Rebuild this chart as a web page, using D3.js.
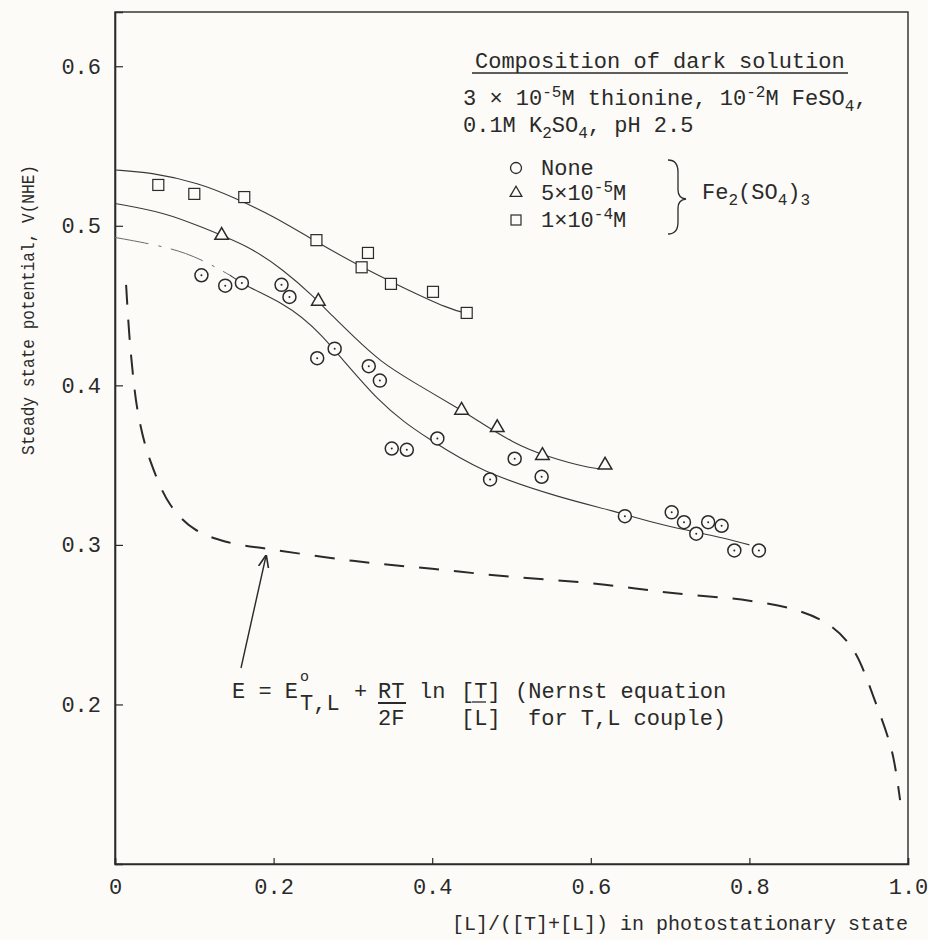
<!DOCTYPE html>
<html>
<head>
<meta charset="utf-8">
<script src="https://cdn.jsdelivr.net/npm/d3@7"></script>
<style>
  body { margin: 0; background: #fcfbf7; }
  svg { display: block; }
  text { font-family: "Liberation Mono", "DejaVu Sans Mono", monospace; fill: #2a2a2a; }
</style>
</head>
<body>
<div id="chart"></div>
<script>
let w = 928;
let h = 940;

// ---- data ----
// circles: no Fe2(SO4)3
let noneX = [0.109, 0.139, 0.160, 0.210, 0.220, 0.255, 0.277, 0.320, 0.334, 0.349, 0.368, 0.4065, 0.473, 0.504, 0.538, 0.643, 0.702, 0.7175, 0.733, 0.748, 0.765, 0.781, 0.812];
let noneY = [0.469, 0.4625, 0.4642, 0.463, 0.4554, 0.417, 0.423, 0.412, 0.403, 0.3604, 0.3596, 0.3667, 0.341, 0.354, 0.3427, 0.318, 0.3204, 0.3142, 0.307, 0.3142, 0.312, 0.2965, 0.2965];
// triangles: 5x10^-5 M
let triX = [0.1345, 0.2564, 0.437, 0.482, 0.539, 0.618];
let triY = [0.494, 0.4527, 0.3844, 0.3735, 0.356, 0.350];
// squares: 1x10^-4 M
let sqX = [0.0546, 0.100, 0.163, 0.254, 0.311, 0.319, 0.348, 0.401, 0.4435];
let sqY = [0.5256, 0.520, 0.518, 0.491, 0.474, 0.483, 0.4636, 0.4586, 0.4454];

// hand drawn fitted curves
let sqCurveX = [0, 0.044, 0.107, 0.149, 0.2, 0.25, 0.309, 0.36, 0.4225, 0.445];
let sqCurveY = [0.535, 0.5336, 0.5267, 0.518, 0.506, 0.491, 0.4746, 0.462, 0.4475, 0.445];
let triCurveX = [0, 0.065, 0.107, 0.17, 0.212, 0.25, 0.275, 0.3, 0.334, 0.376, 0.437, 0.46, 0.502, 0.54, 0.603, 0.615];
let triCurveY = [0.514, 0.508, 0.4996, 0.487, 0.4725, 0.456, 0.443, 0.431, 0.415, 0.402, 0.3844, 0.377, 0.364, 0.356, 0.3475, 0.348];
let noneCurveX = [0, 0.0525, 0.09, 0.12, 0.145, 0.166, 0.21, 0.2544, 0.334, 0.397, 0.46, 0.565, 0.628, 0.691, 0.754, 0.80];
let noneCurveY = [0.4927, 0.488, 0.483, 0.476, 0.469, 0.462, 0.452, 0.437, 0.387, 0.366, 0.346, 0.329, 0.3215, 0.312, 0.306, 0.30];
// Nernst equation (dashed)
let nernstX = [0.014, 0.02, 0.03, 0.045, 0.07, 0.1, 0.14, 0.2, 0.3, 0.4, 0.5, 0.6, 0.7, 0.8, 0.86, 0.9, 0.93, 0.96, 0.98, 0.99];
let nernstY = [0.463, 0.42, 0.38, 0.352, 0.325, 0.31, 0.302, 0.297, 0.29, 0.285, 0.28, 0.276, 0.27, 0.265, 0.259, 0.25, 0.235, 0.2, 0.17, 0.14];

let xTicks = [0, 0.2, 0.4, 0.6, 0.8, 1.0];
let yTicks = [0.2, 0.3, 0.4, 0.5, 0.6];

let x = d3.scaleLinear().domain([0, 1]).range([115, 908]);
let y = d3.scaleLinear().domain([0.1, 0.634]).range([864, 12]);

let svg = d3.select("#chart")
    .append("svg")
    .attr("width", w)
    .attr("height", h);

svg.append("rect").attr("width", w).attr("height", h).attr("fill", "#fcfbf7");

let ink = "#2a2a2a";

// frame
svg.append("rect")
    .attr("x", x(0)).attr("y", y(0.634))
    .attr("width", x(1) - x(0)).attr("height", y(0.1) - y(0.634))
    .attr("fill", "none").attr("stroke", ink).attr("stroke-width", 1.4);

// axes (inward ticks)
let xAxis = d3.axisBottom(x).tickValues(xTicks).tickSize(-6).tickPadding(14)
    .tickFormat(d => d === 0 ? "0" : d3.format(".1f")(d));
let gx = svg.append("g")
    .attr("transform", "translate(0," + y(0.1) + ")")
    .call(xAxis);

let yAxis = d3.axisLeft(y).tickValues(yTicks).tickSize(-8).tickPadding(14)
    .tickFormat(d3.format(".1f"));
let gy = svg.append("g")
    .attr("transform", "translate(" + x(0) + ",0)")
    .call(yAxis);

[gx, gy].forEach(g => {
    g.select(".domain").attr("stroke", ink).attr("stroke-width", 1.6);
    g.selectAll(".tick line").attr("stroke", ink).attr("stroke-width", 1.2);
    g.selectAll(".tick text").attr("font-size", 22).attr("fill", ink)
        .attr("font-family", "Liberation Mono, monospace");
});

// axis titles
svg.append("text")
    .attr("x", 908).attr("y", 930)
    .attr("text-anchor", "end")
    .attr("font-size", 20)
    .text("[L]/([T]+[L]) in photostationary state");

svg.append("text")
    .attr("transform", "translate(34,310) rotate(-90)")
    .attr("text-anchor", "middle")
    .attr("font-size", 18)
    .attr("textLength", 290)
    .attr("lengthAdjust", "spacingAndGlyphs")
    .text("Steady state potential, V(NHE)");

// curves
let line = d3.line()
    .x(d => x(d[0]))
    .y(d => y(d[1]))
    .curve(d3.curveBasis);

let curves = [
    [sqCurveX, sqCurveY],
    [triCurveX, triCurveY]
];
curves.forEach(c => {
    svg.append("path")
        .datum(d3.zip(c[0], c[1]))
        .attr("d", line)
        .attr("fill", "none")
        .attr("stroke", "#3a3a3a")
        .attr("stroke-width", 1.1);
});

// lower curve: faint broken start, solid afterwards
let lowPts = d3.zip(noneCurveX, noneCurveY);
svg.append("path")
    .datum(lowPts.filter(d => d[0] <= 0.145))
    .attr("d", line)
    .attr("fill", "none")
    .attr("stroke", "#6a6a6a")
    .attr("stroke-width", 1)
    .attr("stroke-dasharray", "34,10,3,10");
svg.append("path")
    .datum(lowPts.filter(d => d[0] >= 0.145))
    .attr("d", line)
    .attr("fill", "none")
    .attr("stroke", "#3a3a3a")
    .attr("stroke-width", 1.1);

svg.append("path")
    .datum(d3.zip(nernstX, nernstY))
    .attr("d", line.curve(d3.curveCatmullRom))
    .attr("fill", "none")
    .attr("stroke", ink)
    .attr("stroke-width", 2)
    .attr("stroke-dasharray", "20,15");

// markers
let mk = svg.append("g").attr("fill", "none").attr("stroke", ink).attr("stroke-width", 1.5);

mk.selectAll(".c")
    .data(d3.zip(noneX, noneY))
    .enter()
    .append("circle")
    .attr("cx", d => x(d[0]))
    .attr("cy", d => y(d[1]))
    .attr("r", 6.5)
    .attr("fill", "#fcfbf7");

mk.selectAll(".cd")
    .data(d3.zip(noneX, noneY))
    .enter()
    .append("circle")
    .attr("cx", d => x(d[0]))
    .attr("cy", d => y(d[1]))
    .attr("r", 1)
    .attr("fill", ink)
    .attr("stroke", "none");

let tri = d3.symbol().type(d3.symbolTriangle).size(80);
mk.selectAll(".t")
    .data(d3.zip(triX, triY))
    .enter()
    .append("path")
    .attr("d", tri)
    .attr("transform", d => "translate(" + x(d[0]) + "," + y(d[1]) + ")")
    .attr("fill", "#fcfbf7");

mk.selectAll(".s")
    .data(d3.zip(sqX, sqY))
    .enter()
    .append("rect")
    .attr("x", d => x(d[0]) - 5.5)
    .attr("y", d => y(d[1]) - 5.5)
    .attr("width", 11)
    .attr("height", 11)
    .attr("fill", "#fcfbf7")
    .attr("stroke-width", 1.2);

// legend block
let fs = 22;
svg.append("text").attr("x", 475).attr("y", 68).attr("font-size", fs)
    .text("Composition of dark solution");
svg.append("line").attr("x1", 472).attr("x2", 848).attr("y1", 73).attr("y2", 73)
    .attr("stroke", ink).attr("stroke-width", 1.5);

let l1 = svg.append("text").attr("x", 463).attr("y", 105).attr("font-size", fs);
l1.append("tspan").text("3 \u00d7 10");
l1.append("tspan").attr("dy", -8).attr("font-size", 16).text("-5");
l1.append("tspan").attr("dy", 8).text("M thionine, 10");
l1.append("tspan").attr("dy", -8).attr("font-size", 16).text("-2");
l1.append("tspan").attr("dy", 8).text("M FeSO");
l1.append("tspan").attr("dy", 6).attr("font-size", 16).text("4");
l1.append("tspan").attr("dy", -6).text(",");

let l2 = svg.append("text").attr("x", 463).attr("y", 132).attr("font-size", fs);
l2.append("tspan").text("0.1M K");
l2.append("tspan").attr("dy", 6).attr("font-size", 16).text("2");
l2.append("tspan").attr("dy", -6).text("SO");
l2.append("tspan").attr("dy", 6).attr("font-size", 16).text("4");
l2.append("tspan").attr("dy", -6).text(", pH 2.5");

let legRows = [
    { sym: "circle", label: ["None"], yy: 175 },
    { sym: "tri", label: ["5\u00d710", "-5", "M"], yy: 200 },
    { sym: "sq", label: ["1\u00d710", "-4", "M"], yy: 227 }
];
legRows.forEach(r => {
    let cy = r.yy - 7;
    if (r.sym === "circle") {
        svg.append("circle").attr("cx", 516).attr("cy", cy).attr("r", 5.5)
            .attr("fill", "none").attr("stroke", ink).attr("stroke-width", 1.3);
    } else if (r.sym === "tri") {
        svg.append("path").attr("d", d3.symbol().type(d3.symbolTriangle).size(60))
            .attr("transform", "translate(516," + cy + ")")
            .attr("fill", "none").attr("stroke", ink).attr("stroke-width", 1.3);
    } else {
        svg.append("rect").attr("x", 511).attr("y", cy - 5).attr("width", 10).attr("height", 10)
            .attr("fill", "none").attr("stroke", ink).attr("stroke-width", 1.2);
    }
    let t = svg.append("text").attr("x", 541).attr("y", r.yy).attr("font-size", fs);
    t.append("tspan").text(r.label[0]);
    if (r.label.length > 1) {
        t.append("tspan").attr("dy", -8).attr("font-size", 16).text(r.label[1]);
        t.append("tspan").attr("dy", 8).text(r.label[2]);
    }
});

// brace
svg.append("path")
    .attr("d", "M668,160 Q678,160 678,172 L678,190 Q678,198 686,199 Q678,200 678,208 L678,222 Q678,234 668,234")
    .attr("fill", "none").attr("stroke", ink).attr("stroke-width", 1.3);

let fe = svg.append("text").attr("x", 702).attr("y", 199).attr("font-size", fs);
fe.append("tspan").text("Fe");
fe.append("tspan").attr("dy", 6).attr("font-size", 16).text("2");
fe.append("tspan").attr("dy", -6).text("(SO");
fe.append("tspan").attr("dy", 6).attr("font-size", 16).text("4");
fe.append("tspan").attr("dy", -6).text(")");
fe.append("tspan").attr("dy", 6).attr("font-size", 16).text("3");

// Nernst annotation
svg.append("defs").append("marker")
    .attr("id", "ah").attr("viewBox", "0 0 10 10").attr("refX", 9).attr("refY", 5)
    .attr("markerWidth", 9).attr("markerHeight", 9).attr("orient", "auto")
    .append("path").attr("d", "M0,1 L10,5 L0,9").attr("fill", "none").attr("stroke", ink).attr("stroke-width", 1.3);

svg.append("line")
    .attr("x1", 241).attr("y1", 668)
    .attr("x2", 266).attr("y2", 556)
    .attr("stroke", ink).attr("stroke-width", 1.4)
    .attr("marker-end", "url(#ah)");

let ay = 698;
let eq = svg.append("g");
eq.append("text").attr("x", 232).attr("y", ay).attr("font-size", fs).text("E = E");
eq.append("text").attr("x", 300).attr("y", ay - 17).attr("font-size", 15).text("o");
eq.append("text").attr("x", 300).attr("y", ay + 12).attr("font-size", fs).text("T,L");
eq.append("text").attr("x", 354).attr("y", ay).attr("font-size", fs).text("+");
eq.append("text").attr("x", 378).attr("y", ay).attr("font-size", fs).text("RT");
eq.append("line").attr("x1", 378).attr("x2", 406).attr("y1", ay + 5).attr("y2", ay + 5)
    .attr("stroke", ink).attr("stroke-width", 2);
eq.append("text").attr("x", 378).attr("y", ay + 27).attr("font-size", fs).text("2F");
eq.append("text").attr("x", 419).attr("y", ay).attr("font-size", fs).text("ln");
eq.append("text").attr("x", 461).attr("y", ay).attr("font-size", fs).text("[T]");
eq.append("line").attr("x1", 472).attr("x2", 486).attr("y1", ay + 4).attr("y2", ay + 4)
    .attr("stroke", ink).attr("stroke-width", 1.3);
eq.append("text").attr("x", 461).attr("y", ay + 27).attr("font-size", fs).text("[L]");
eq.append("text").attr("x", 515).attr("y", ay).attr("font-size", fs).text("(Nernst equation");
eq.append("text").attr("x", 528).attr("y", ay + 27).attr("font-size", fs).text("for T,L couple)");
</script>
</body>
</html>
